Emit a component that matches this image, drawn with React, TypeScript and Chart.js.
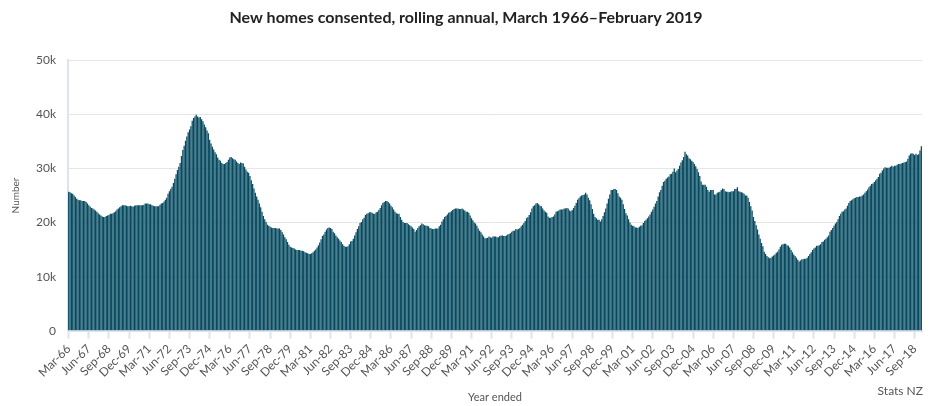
import React, { useEffect, useRef } from 'react';
import { Chart, registerables } from 'chart.js';

Chart.register(...registerables);

const MONTHS = ['Jan', 'Feb', 'Mar', 'Apr', 'May', 'Jun', 'Jul', 'Aug', 'Sep', 'Oct', 'Nov', 'Dec'];
const FIRST_YEAR = 1966;
const FIRST_MONTH = 2; // March
const TICK_EVERY = 15;

// Rolling annual new homes consented, thousands, monthly March 1966 – February 2019
// (each row: March .. February)
const consents: number[] = [
  25.7, 25.6, 25.4, 25.3, 25.0, 24.7, 24.4, 24.2, 24.1, 24.1, 24.0, 24.0,
  24.0, 23.8, 23.5, 23.2, 22.9, 22.7, 22.6, 22.4, 22.2, 22.0, 21.7, 21.5,
  21.3, 21.1, 21.0, 21.0, 21.2, 21.3, 21.4, 21.6, 21.6, 21.7, 21.9, 22.1,
  22.4, 22.6, 22.8, 23.0, 23.2, 23.2, 23.2, 23.1, 23.0, 23.0, 23.1, 23.0,
  22.9, 23.1, 23.2, 23.2, 23.2, 23.2, 23.2, 23.2, 23.3, 23.5, 23.5, 23.5,
  23.4, 23.4, 23.2, 23.1, 23.0, 23.0, 23.0, 23.0, 23.3, 23.5, 23.6, 23.9,
  24.2, 24.6, 25.3, 25.8, 26.2, 26.6, 27.3, 28.1, 28.9, 29.7, 30.3, 31.0,
  32.3, 33.4, 34.2, 35.1, 35.9, 36.7, 37.2, 37.8, 38.8, 39.3, 39.6, 39.9,
  39.6, 39.4, 39.5, 39.1, 38.7, 38.1, 37.6, 37.0, 36.5, 35.3, 34.6, 34.0,
  33.5, 33.0, 32.6, 32.0, 31.6, 31.4, 31.0, 30.8, 30.8, 31.0, 31.2, 31.6,
  32.0, 32.1, 31.9, 31.7, 31.6, 31.3, 31.0, 30.8, 31.1, 31.0, 30.9, 30.3,
  29.8, 29.4, 29.2, 28.6, 27.8, 27.1, 26.3, 25.5, 24.8, 24.2, 23.5, 22.8,
  22.0, 21.2, 20.6, 20.1, 19.6, 19.4, 19.2, 19.1, 19.0, 19.0, 19.0, 18.9,
  18.9, 18.9, 18.6, 18.2, 17.8, 17.3, 16.9, 16.4, 15.9, 15.5, 15.4, 15.3,
  15.2, 15.0, 14.9, 14.9, 14.9, 14.8, 14.8, 14.7, 14.5, 14.4, 14.3, 14.2,
  14.2, 14.3, 14.5, 14.8, 15.0, 15.4, 15.8, 16.3, 16.9, 17.5, 17.8, 18.3,
  18.7, 19.0, 19.1, 19.0, 18.8, 18.3, 18.0, 17.6, 17.3, 17.0, 16.7, 16.4,
  16.0, 15.7, 15.5, 15.5, 15.6, 16.0, 16.5, 16.6, 17.0, 17.6, 18.2, 18.8,
  19.3, 19.9, 20.1, 20.6, 20.9, 21.4, 21.6, 21.7, 21.9, 21.9, 21.8, 21.6,
  21.6, 21.9, 22.0, 22.3, 22.7, 23.2, 23.6, 23.8, 24.0, 24.0, 23.8, 23.5,
  23.1, 22.8, 22.4, 22.0, 21.7, 21.6, 21.6, 21.0, 20.5, 20.1, 19.9, 19.9,
  19.9, 19.7, 19.5, 19.3, 19.1, 18.8, 18.3, 18.6, 19.0, 19.3, 19.5, 19.8,
  19.7, 19.5, 19.4, 19.4, 19.3, 19.0, 18.9, 18.8, 18.8, 18.9, 18.9, 18.9,
  19.3, 19.6, 20.2, 20.6, 21.0, 21.2, 21.5, 21.8, 21.9, 22.1, 22.3, 22.5,
  22.6, 22.6, 22.6, 22.5, 22.5, 22.6, 22.4, 22.2, 22.0, 22.0, 21.8, 21.3,
  20.8, 20.4, 20.0, 19.8, 19.4, 18.9, 18.5, 18.2, 17.8, 17.4, 17.1, 17.1,
  17.2, 17.4, 17.3, 17.2, 17.4, 17.4, 17.4, 17.3, 17.3, 17.5, 17.6, 17.6,
  17.5, 17.5, 17.6, 17.8, 17.9, 18.0, 18.3, 18.5, 18.5, 18.8, 18.7, 18.8,
  19.0, 19.3, 19.6, 19.9, 20.3, 20.8, 21.0, 21.4, 21.9, 22.6, 23.0, 23.2,
  23.5, 23.6, 23.4, 23.1, 23.0, 22.6, 22.2, 22.0, 21.8, 21.1, 20.9, 20.9,
  21.0, 21.1, 21.5, 22.0, 22.1, 22.2, 22.4, 22.4, 22.4, 22.6, 22.6, 22.7,
  22.6, 22.2, 22.1, 22.3, 22.7, 23.1, 23.6, 24.2, 24.5, 24.8, 25.0, 25.1,
  25.2, 25.5, 25.2, 24.6, 24.1, 23.4, 22.5, 21.6, 21.0, 20.8, 20.5, 20.5,
  20.2, 20.6, 21.2, 21.9, 22.6, 23.5, 24.4, 25.2, 26.0, 26.0, 26.2, 26.2,
  26.0, 25.4, 24.8, 24.6, 24.2, 23.4, 22.5, 21.7, 21.3, 20.6, 20.0, 19.6,
  19.4, 19.3, 19.1, 19.1, 19.0, 19.2, 19.4, 19.5, 19.9, 20.3, 20.5, 20.8,
  21.1, 21.5, 22.0, 22.4, 22.9, 23.5, 24.0, 24.8, 25.6, 26.0, 26.8, 27.5,
  27.7, 28.1, 28.3, 28.5, 28.9, 29.0, 29.4, 30.0, 29.3, 29.6, 29.9, 30.5,
  31.1, 31.5, 32.1, 33.1, 32.6, 32.4, 31.9, 31.7, 31.4, 31.2, 30.8, 30.4,
  29.9, 29.3, 28.6, 27.6, 27.0, 27.0, 27.0, 26.6, 26.0, 25.7, 26.0, 26.0,
  26.0, 25.2, 25.2, 25.5, 25.6, 25.7, 26.0, 26.3, 26.2, 25.8, 25.7, 25.7,
  25.6, 25.7, 25.8, 25.8, 26.2, 26.2, 26.5, 25.8, 25.7, 25.6, 25.5, 25.3,
  25.0, 25.0, 24.6, 23.8, 23.0, 22.2, 21.0, 20.3, 19.5, 18.7, 17.8, 17.0,
  16.2, 15.6, 14.6, 14.2, 13.8, 13.6, 13.4, 13.5, 13.7, 13.9, 14.1, 14.4,
  14.6, 15.0, 15.5, 15.9, 16.0, 16.1, 16.1, 15.8, 15.7, 15.4, 14.9, 14.5,
  14.1, 13.8, 13.5, 13.1, 12.8, 13.0, 13.2, 13.2, 13.3, 13.3, 13.5, 13.8,
  14.2, 14.5, 14.9, 15.2, 15.4, 15.7, 15.7, 15.8, 16.0, 16.4, 16.5, 16.8,
  17.0, 17.3, 17.6, 18.3, 18.6, 19.0, 19.4, 19.8, 20.1, 20.6, 21.2, 21.6,
  22.0, 22.1, 22.4, 22.6, 23.1, 23.6, 24.0, 24.1, 24.3, 24.5, 24.6, 24.7,
  24.7, 24.8, 24.8, 25.0, 25.2, 25.5, 25.8, 26.1, 26.5, 26.8, 27.1, 27.2,
  27.5, 27.8, 28.1, 28.4, 29.0, 29.2, 29.6, 30.0, 30.2, 30.1, 30.1, 30.1,
  30.3, 30.5, 30.3, 30.5, 30.5, 30.7, 30.8, 30.8, 30.9, 31.0, 31.1, 31.2,
  31.3, 31.8, 32.4, 32.7, 32.8, 32.7, 32.5, 32.7, 32.5, 32.6, 33.3, 34.1,
];

const categories: string[] = consents.map((_, i) => {
  const m = FIRST_MONTH + i;
  const year = FIRST_YEAR + Math.floor(m / 12);
  return `${MONTHS[m % 12]}-${String(year % 100).padStart(2, '0')}`;
});

const yTicks = [0, 10, 20, 30, 40, 50];

const FONT = "Lato, 'Open Sans', sans-serif";
const TEXT = '#555555';
const AXIS = '#dce4ed';

export default function App() {
  const ref = useRef<HTMLCanvasElement | null>(null);

  useEffect(() => {
    document.body.style.margin = '0';
    if (!ref.current) return;

    const sourcePlugin = {
      id: 'sourceNote',
      afterDraw(chart: any) {
        const { ctx, chartArea } = chart;
        ctx.save();
        ctx.font = `12px ${FONT}`;
        ctx.fillStyle = TEXT;
        ctx.textAlign = 'right';
        ctx.textBaseline = 'middle';
        ctx.fillText('Stats NZ', chartArea.right + 1, 391);
        ctx.restore();
      },
    };

    const chart = new Chart(ref.current, {
      type: 'bar',
      data: {
        labels: categories,
        datasets: [
          {
            data: consents,
            backgroundColor: '#064a60',
            barPercentage: 0.94,
            categoryPercentage: 1,
          },
        ],
      },
      plugins: [sourcePlugin],
      options: {
        animation: false,
        responsive: false,
        layout: { padding: { left: 10, right: 20, top: 2, bottom: 0 } },
        plugins: {
          legend: { display: false },
          tooltip: { enabled: false },
          title: {
            display: true,
            text: 'New homes consented, rolling annual, March 1966\u2013February 2019',
            color: '#222222',
            font: { family: FONT, size: 16, weight: 'bold' },
            padding: { top: 6, bottom: 33 },
          },
        },
        scales: {
          x: {
            offset: true,
            grid: {
              drawOnChartArea: false,
              offset: false,
              tickLength: 8,
              tickWidth: 2,
              tickColor: (ctx: any) => (ctx.index % TICK_EVERY === 0 ? AXIS : 'rgba(0,0,0,0)'),
            },
            border: { color: AXIS, width: 2 },
            ticks: {
              autoSkip: false,
              minRotation: 45,
              maxRotation: 45,
              padding: 3,
              color: TEXT,
              font: { family: FONT, size: 12 },
              callback: (_v: any, index: number) =>
                index % TICK_EVERY === 0 ? categories[index] : '',
            },
            title: {
              display: true,
              text: 'Year ended',
              color: TEXT,
              font: { family: FONT, size: 11 },
              padding: { top: 8, bottom: 2 },
            },
          },
          y: {
            min: 0,
            max: 50,
            afterBuildTicks: (scale: any) => {
              scale.ticks = yTicks.map((v) => ({ value: v }));
            },
            grid: { color: '#e6e6e6', drawTicks: false },
            border: { color: AXIS, width: 2 },
            ticks: {
              padding: 12,
              color: TEXT,
              font: { family: FONT, size: 12 },
              callback: (v: any) => (v === 0 ? '0' : `${v}k`),
            },
            title: {
              display: true,
              text: 'Number',
              color: TEXT,
              font: { family: FONT, size: 10 },
              padding: { top: 0, bottom: 2 },
            },
          },
        },
      },
    } as any);

    return () => chart.destroy();
  }, []);

  return (
    <div style={{ width: 942, height: 406 }}>
      <canvas ref={ref} width={942} height={406} style={{ display: 'block' }} />
    </div>
  );
}
